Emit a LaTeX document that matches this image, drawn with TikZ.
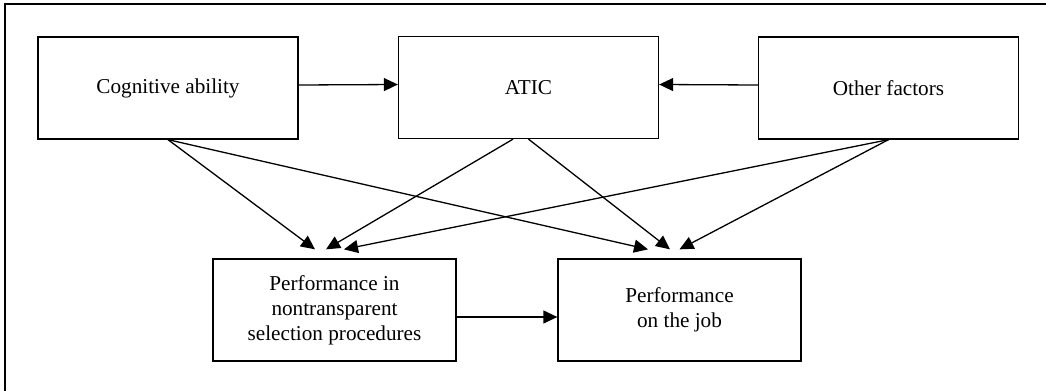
\documentclass[tikz,border=0pt]{standalone}
\usepackage{fontspec}
\setmainfont{Liberation Serif}
\usetikzlibrary{arrows.meta}

\begin{document}
\begin{tikzpicture}[x=0.5pt,y=-0.5pt,line width=0.65pt,
  box/.style={draw,minimum width=130pt,minimum height=51pt,inner sep=0pt,
    align=center,font=\fontsize{10.6}{12.5}\selectfont},
  >={Triangle[length=7pt,width=6.5pt]}]
\useasboundingbox (0,0) rectangle (1046,391);
\draw[line width=1pt] (4.5,391) -- (4.5,4) -- (1046,4);
\node[box] (cog) at (168,88) {Cognitive ability};
\node[box] (atic) at (528.5,87.5) {ATIC};
\node[box] (other) at (888.5,88) {Other factors};
\node[box,minimum width=121.5pt] (pn) at (334.5,310) {Performance in\\nontransparent\\selection procedures};
\node[box,minimum width=121.5pt] (job) at (679.5,310) {Performance\\on the job};
\draw[->] ([yshift=1.5pt]cog.east) -- ([yshift=1.5pt]atic.west);
\draw[->] ([yshift=1.5pt]other.west) -- ([yshift=1.5pt]atic.east);
\draw[->] ([yshift=-3.5pt]pn.east) -- ([yshift=-3.5pt]job.west);
\foreach \from/\sx/\to/\ex in {cog/0/pn/-9.75, cog/0/job/-15.75, atic/-7.75/pn/-4.25,
    atic/0/job/-4.75, other/0/pn/4.75, other/0/job/0}
  \draw[->] ([xshift=\sx pt]\from.south) -- ([xshift=\ex pt,yshift=4.5pt]\to.north);
\end{tikzpicture}
\end{document}
